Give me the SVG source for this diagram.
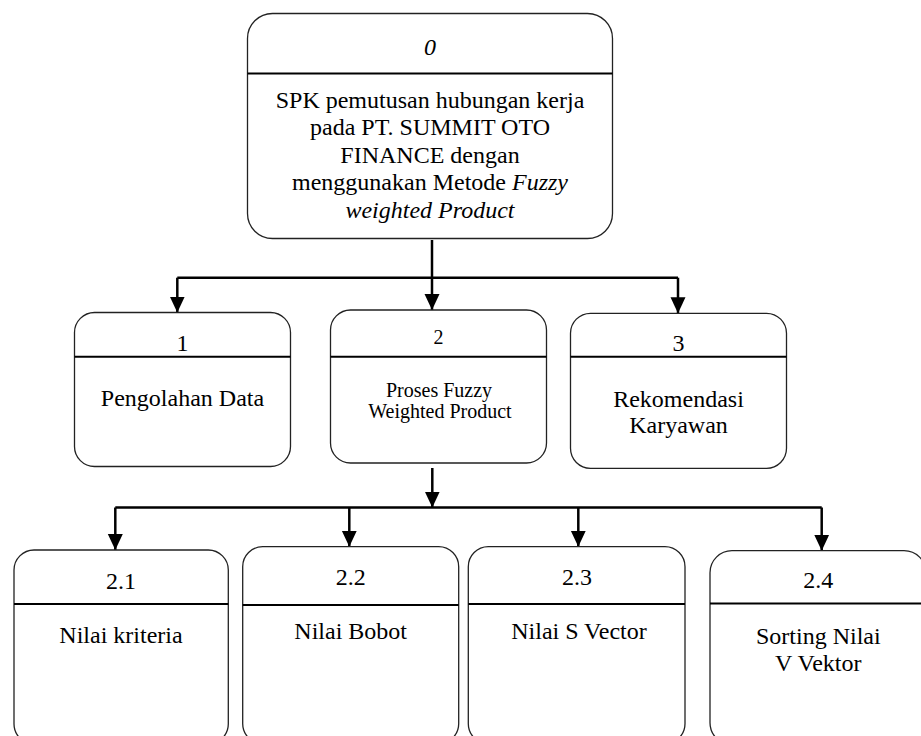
<svg xmlns="http://www.w3.org/2000/svg" width="921" height="736" viewBox="0 0 921 736">
  <style>
    .box { fill: #ffffff; stroke: #222222; stroke-width: 1.3; }
    .div { stroke: #000000; stroke-width: 2; }
    text { font-family: 'Liberation Serif', 'DejaVu Serif', serif; font-size: 24px; fill: #000000; text-anchor: middle; }
    .s { font-size: 20px; }
    .i { font-style: italic; }
    .conn { fill: none; stroke: #000000; stroke-width: 2.5; }
  </style>
  <defs>
    <marker id="arrow" viewBox="0 0 16 16" markerWidth="16" markerHeight="16" refX="16" refY="8" orient="auto" markerUnits="userSpaceOnUse">
      <path d="M0,0.5 L16,8 L0,15.5 Z" fill="#000000"/>
    </marker>
  </defs>
  <rect width="921" height="736" fill="#ffffff"/>

  <!-- connectors -->
  <g id="connectors">
    <path class="conn" d="M432,240 V310" marker-end="url(#arrow)"/>
    <path class="conn" d="M177.3,277.7 H678"/>
    <path class="conn" d="M177.3,277.7 V312.5" marker-end="url(#arrow)"/>
    <path class="conn" d="M678,277.7 V313.3" marker-end="url(#arrow)"/>

    <path class="conn" d="M432.3,468 V507.5" marker-end="url(#arrow)"/>
    <path class="conn" d="M115.3,507.5 H821.7"/>
    <path class="conn" d="M115.3,507.5 V550" marker-end="url(#arrow)"/>
    <path class="conn" d="M349.3,507.5 V546.7" marker-end="url(#arrow)"/>
    <path class="conn" d="M578.3,507.5 V546.7" marker-end="url(#arrow)"/>
    <path class="conn" d="M821.7,507.5 V550.7" marker-end="url(#arrow)"/>
  </g>

  <!-- process 0 -->
  <g id="node-0">
    <rect class="box" x="247.5" y="13.5" width="365" height="225" rx="25"/>
    <line class="div" x1="247.5" y1="73.5" x2="612.5" y2="73.5"/>
    <text class="i" x="430" y="55">0</text>
    <text x="430" y="107.5">SPK pemutusan hubungan kerja</text>
    <text x="430" y="135">pada PT. SUMMIT OTO</text>
    <text x="430" y="162.5">FINANCE dengan</text>
    <text x="430" y="190">menggunakan Metode <tspan class="i">Fuzzy</tspan></text>
    <text class="i" x="430" y="217.5">weighted Product</text>
  </g>

  <!-- process 1 -->
  <g id="node-1">
    <rect class="box" x="74.5" y="312.5" width="216" height="154" rx="20"/>
    <line class="div" x1="74.5" y1="356.7" x2="290.5" y2="356.7"/>
    <text x="182.5" y="350.7">1</text>
    <text x="182.5" y="405.7">Pengolahan Data</text>
  </g>

  <!-- process 2 -->
  <g id="node-2">
    <rect class="box" x="330.5" y="310" width="216" height="153" rx="20"/>
    <line class="div" x1="330.5" y1="356.7" x2="546.5" y2="356.7"/>
    <text class="s" x="438.5" y="344">2</text>
    <text class="s" x="439" y="396.5">Proses Fuzzy</text>
    <text class="s" x="440" y="418">Weighted Product</text>
  </g>

  <!-- process 3 -->
  <g id="node-3">
    <rect class="box" x="570.5" y="313.3" width="216" height="155" rx="20"/>
    <line class="div" x1="570.5" y1="356.7" x2="786.5" y2="356.7"/>
    <text x="678.5" y="350.7">3</text>
    <text x="678.5" y="406.7">Rekomendasi</text>
    <text x="678.5" y="433.3">Karyawan</text>
  </g>

  <!-- process 2.1 -->
  <g id="node-2-1">
    <rect class="box" x="14" y="550" width="214.3" height="194" rx="20"/>
    <line class="div" x1="14" y1="604" x2="228.3" y2="604"/>
    <text x="121" y="589">2.1</text>
    <text x="121" y="643">Nilai kriteria</text>
  </g>

  <!-- process 2.2 -->
  <g id="node-2-2">
    <rect class="box" x="242.7" y="546.7" width="216" height="197" rx="20"/>
    <line class="div" x1="242.7" y1="605" x2="458.7" y2="605"/>
    <text x="350.7" y="585">2.2</text>
    <text x="350.7" y="639">Nilai Bobot</text>
  </g>

  <!-- process 2.3 -->
  <g id="node-2-3">
    <rect class="box" x="468.3" y="546.7" width="216.7" height="197" rx="20"/>
    <line class="div" x1="468.3" y1="604" x2="685" y2="604"/>
    <text x="577" y="585">2.3</text>
    <text x="579" y="639">Nilai S Vector</text>
  </g>

  <!-- process 2.4 -->
  <g id="node-2-4">
    <rect class="box" x="710" y="550.7" width="216" height="194" rx="22"/>
    <line class="div" x1="710" y1="603.5" x2="926" y2="603.5"/>
    <text x="818.3" y="588">2.4</text>
    <text x="818.3" y="644">Sorting Nilai</text>
    <text x="818.3" y="670.7">V Vektor</text>
  </g>
</svg>
